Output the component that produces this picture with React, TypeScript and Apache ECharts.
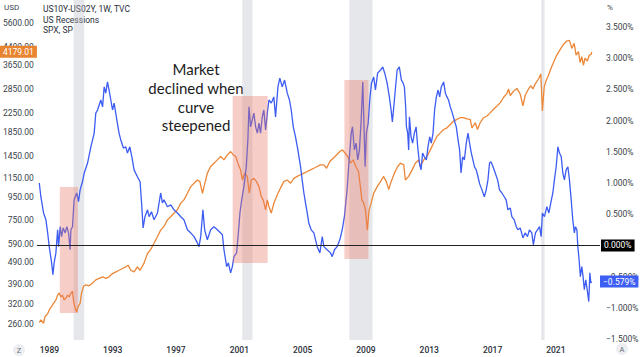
import React, { useEffect, useRef } from 'react';
import * as echarts from 'echarts';

// US10Y-US02Y spread (%), weekly
const spreadYears = [
  1988.36, 1988.46, 1988.63, 1988.78, 1988.89, 1988.99, 1989.14, 1989.22, 1989.3, 1989.41,
  1989.52, 1989.58, 1989.68, 1989.77, 1989.87, 1990.0, 1990.1, 1990.21, 1990.31, 1990.36,
  1990.46, 1990.56, 1990.63, 1990.73, 1990.84, 1990.94, 1991.09, 1991.2, 1991.41, 1991.62,
  1991.83, 1991.93, 1992.04, 1992.25, 1992.36, 1992.46, 1992.56, 1992.67, 1992.77, 1992.88,
  1992.99, 1993.09, 1993.26, 1993.4, 1993.51, 1993.68, 1993.83, 1993.93, 1994.08, 1994.21,
  1994.35, 1994.56, 1994.73, 1994.84, 1994.92, 1995.04, 1995.2, 1995.3, 1995.45, 1995.61,
  1995.83, 1996.03, 1996.14, 1996.24, 1996.46, 1996.67, 1996.87, 1997.09, 1997.3, 1997.5,
  1997.72, 1997.93, 1998.14, 1998.35, 1998.45, 1998.56, 1998.7, 1998.81, 1998.98, 1999.19,
  1999.4, 1999.61, 1999.82, 1999.93, 2000.03, 2000.2, 2000.31, 2000.45, 2000.56, 2000.66,
  2000.83, 2000.94, 2001.04, 2001.15, 2001.29, 2001.44, 2001.54, 2001.61, 2001.71, 2001.82,
  2001.92, 2002.03, 2002.14, 2002.24, 2002.34, 2002.45, 2002.55, 2002.66, 2002.77, 2002.87,
  2003.02, 2003.18, 2003.29, 2003.44, 2003.56, 2003.71, 2003.86, 2004.03, 2004.17, 2004.28,
  2004.41, 2004.55, 2004.7, 2004.87, 2004.97, 2005.08, 2005.18, 2005.29, 2005.39, 2005.54,
  2005.71, 2005.92, 2006.09, 2006.24, 2006.34, 2006.55, 2006.76, 2006.87, 2007.01, 2007.18,
  2007.35, 2007.5, 2007.64, 2007.81, 2007.94, 2008.07, 2008.15, 2008.27, 2008.38, 2008.48,
  2008.59, 2008.7, 2008.8, 2008.89, 2008.95, 2009.03, 2009.14, 2009.24, 2009.35, 2009.49,
  2009.6, 2009.74, 2009.92, 2010.06, 2010.19, 2010.34, 2010.48, 2010.59, 2010.67, 2010.8,
  2010.97, 2011.11, 2011.24, 2011.35, 2011.43, 2011.51, 2011.56, 2011.64, 2011.7, 2011.75,
  2011.85, 2011.95, 2012.06, 2012.17, 2012.27, 2012.38, 2012.48, 2012.58, 2012.69, 2012.82,
  2012.92, 2013.03, 2013.13, 2013.24, 2013.34, 2013.45, 2013.56, 2013.66, 2013.76, 2013.91,
  2014.02, 2014.12, 2014.22, 2014.33, 2014.46, 2014.58, 2014.71, 2014.82, 2014.92, 2015.01,
  2015.11, 2015.22, 2015.34, 2015.45, 2015.55, 2015.66, 2015.76, 2015.86, 2015.97, 2016.08,
  2016.18, 2016.33, 2016.48, 2016.6, 2016.71, 2016.81, 2016.9, 2017.03, 2017.17, 2017.32,
  2017.44, 2017.59, 2017.74, 2017.86, 2017.97, 2018.12, 2018.22, 2018.37, 2018.5, 2018.6,
  2018.75, 2018.92, 2019.06, 2019.21, 2019.33, 2019.48, 2019.58, 2019.71, 2019.84, 2019.97,
  2020.07, 2020.15, 2020.28, 2020.43, 2020.56, 2020.68, 2020.81, 2020.91, 2021.02, 2021.13,
  2021.23, 2021.34, 2021.44, 2021.54, 2021.65, 2021.76, 2021.86, 2021.97, 2022.07, 2022.17,
  2022.24, 2022.33, 2022.39, 2022.47, 2022.55, 2022.64, 2022.72, 2022.8, 2022.89, 2022.98,
  2023.08, 2023.15, 2023.21, 2023.27,
];
const spreadValues = [
  1.0, 0.78, 0.52, 0.41, 0.2, -0.02, -0.28, -0.47, -0.28, -0.12,
  0.25, -0.02, 0.3, 0.14, 0.28, 0.2, 0.3, 0.2, -0.07, 0.25,
  0.3, 0.73, 0.78, 0.84, 0.7, 0.89, 1.02, 1.16, 1.32, 1.58,
  1.8, 2.12, 2.17, 2.33, 2.22, 2.54, 2.44, 2.62, 2.49, 2.33,
  2.17, 2.28, 2.01, 1.8, 1.69, 1.56, 1.58, 1.48, 1.58, 1.42,
  1.21, 1.1, 1.02, 0.62, 0.28, 0.46, 0.57, 0.46, 0.54, 0.41,
  0.52, 0.84, 0.68, 0.73, 0.62, 0.65, 0.57, 0.52, 0.46, 0.41,
  0.25, 0.2, 0.14, 0.04, -0.02, 0.14, 0.57, 0.25, 0.09, 0.25,
  0.3, 0.25, 0.2, 0.17, -0.07, -0.34, -0.28, -0.44, -0.34, -0.18,
  -0.12, 0.2, 0.52, 0.73, 0.94, 1.26, 1.69, 2.22, 1.9, 2.01,
  2.12, 1.9, 1.8, 1.96, 1.8, 2.06, 2.17, 1.85, 2.12, 2.33,
  2.28, 2.38, 2.06, 2.54, 2.68, 2.54, 2.65, 2.44, 2.33, 2.17,
  1.9, 1.74, 1.53, 1.26, 1.05, 0.84, 0.68, 0.52, 0.36, 0.25,
  0.2, -0.02, -0.12, 0.14, -0.02, -0.07, -0.12, -0.18, -0.07, -0.02,
  0.09, 0.25, 0.46, 0.89, 1.37, 1.8, 1.9, 1.53, 1.64, 1.37,
  1.53, 2.01, 2.62, 1.8, 1.26, 1.8, 1.96, 2.33, 2.6, 2.7,
  2.49, 2.76, 2.81, 2.86, 2.76, 2.6, 2.38, 2.17, 1.98, 2.33,
  2.81, 2.86, 2.65, 2.6, 2.54, 2.22, 1.9, 1.8, 1.53, 2.06,
  1.74, 1.64, 1.8, 1.9, 1.58, 1.32, 1.21, 1.48, 1.42, 1.37,
  1.58, 1.74, 1.64, 1.8, 2.17, 2.38, 2.49, 2.38, 2.54, 2.62,
  2.44, 2.38, 2.33, 2.22, 2.12, 2.01, 1.9, 1.69, 1.53, 1.16,
  1.42, 1.37, 1.64, 1.8, 1.64, 1.48, 1.37, 1.26, 1.21, 1.1,
  0.99, 0.89, 0.78, 0.89, 1.05, 1.32, 1.34, 1.26, 1.16, 1.05,
  0.89, 0.84, 0.78, 0.73, 0.57, 0.6, 0.46, 0.41, 0.3, 0.25,
  0.28, 0.12, 0.2, 0.14, 0.25, 0.2, 0.01, 0.2, 0.25, 0.3,
  0.14, 0.52, 0.46, 0.62, 0.52, 0.68, 0.84, 1.05, 1.26, 1.58,
  1.48, 1.42, 1.16, 1.05, 1.21, 1.26, 1.05, 0.73, 0.41, 0.2,
  0.3, 0.25, -0.02, -0.23, -0.5, -0.34, -0.5, -0.71, -0.55, -0.71,
  -0.9, -0.44, -0.6, -0.579,
];

// S&P 500 (USD)
const spxYears = [
  1988.36, 1988.46, 1988.63, 1988.72, 1988.89, 1988.99, 1989.14, 1989.26, 1989.41, 1989.52,
  1989.62, 1989.73, 1989.83, 1989.93, 1990.04, 1990.15, 1990.25, 1990.36, 1990.46, 1990.53,
  1990.63, 1990.72, 1990.82, 1990.94, 1991.03, 1991.16, 1991.3, 1991.51, 1991.73, 1991.93,
  1992.14, 1992.36, 1992.56, 1992.77, 1992.99, 1993.2, 1993.4, 1993.62, 1993.83, 1993.97,
  1994.14, 1994.35, 1994.56, 1994.73, 1994.98, 1995.2, 1995.4, 1995.61, 1995.83, 1996.03,
  1996.24, 1996.46, 1996.67, 1996.87, 1997.09, 1997.3, 1997.5, 1997.72, 1997.93, 1998.14,
  1998.35, 1998.51, 1998.67, 1998.77, 1998.98, 1999.19, 1999.4, 1999.61, 1999.82, 2000.03,
  2000.24, 2000.45, 2000.62, 2000.77, 2000.91, 2001.08, 2001.19, 2001.33, 2001.5, 2001.63,
  2001.76, 2001.92, 2002.09, 2002.24, 2002.39, 2002.51, 2002.66, 2002.77, 2002.87, 2003.02,
  2003.18, 2003.4, 2003.61, 2003.81, 2004.03, 2004.24, 2004.45, 2004.66, 2004.87, 2005.08,
  2005.29, 2005.5, 2005.71, 2005.92, 2006.13, 2006.34, 2006.51, 2006.72, 2006.93, 2007.14,
  2007.35, 2007.52, 2007.69, 2007.85, 2008.02, 2008.19, 2008.36, 2008.53, 2008.65, 2008.74,
  2008.86, 2008.97, 2009.09, 2009.2, 2009.33, 2009.49, 2009.71, 2009.92, 2010.12, 2010.29,
  2010.44, 2010.59, 2010.8, 2011.01, 2011.18, 2011.39, 2011.49, 2011.7, 2011.92, 2012.12,
  2012.33, 2012.44, 2012.65, 2012.86, 2013.07, 2013.28, 2013.49, 2013.7, 2013.91, 2014.12,
  2014.33, 2014.54, 2014.75, 2014.96, 2015.17, 2015.38, 2015.59, 2015.7, 2015.91, 2016.05,
  2016.22, 2016.43, 2016.65, 2016.86, 2017.06, 2017.28, 2017.49, 2017.69, 2017.91, 2018.01,
  2018.12, 2018.33, 2018.54, 2018.75, 2018.92, 2019.06, 2019.27, 2019.42, 2019.55, 2019.69,
  2019.9, 2020.05, 2020.15, 2020.26, 2020.39, 2020.53, 2020.68, 2020.85, 2021.06, 2021.27,
  2021.48, 2021.69, 2021.86, 2022.01, 2022.16, 2022.28, 2022.43, 2022.53, 2022.64, 2022.74,
  2022.85, 2022.99, 2023.12, 2023.23, 2023.27,
];
const spxValues = [
  264, 271, 262, 280, 289, 300, 311, 321, 332, 349,
  357, 343, 349, 332, 339, 349, 343, 357, 363, 327,
  305, 294, 311, 321, 357, 382, 388, 384, 395, 408,
  414, 421, 414, 421, 435, 443, 450, 458, 466, 474,
  450, 443, 466, 450, 484, 534, 556, 593, 635, 678,
  704, 753, 779, 806, 834, 893, 923, 988, 1057, 1094,
  1131, 1112, 988, 1057, 1213, 1298, 1343, 1389, 1437, 1389,
  1461, 1512, 1461, 1437, 1343, 1254, 1131, 1213, 1173, 988,
  1131, 1150, 1112, 1057, 955, 923, 834, 923, 863, 806,
  893, 973, 1044, 1112, 1131, 1094, 1150, 1173, 1193, 1213,
  1233, 1254, 1275, 1298, 1320, 1320, 1275, 1366, 1413, 1461,
  1512, 1538, 1486, 1437, 1343, 1389, 1298, 1233, 1057, 923,
  893, 834, 678, 834, 893, 988, 1057, 1112, 1173, 1112,
  1027, 1112, 1213, 1298, 1343, 1320, 1131, 1173, 1254, 1343,
  1389, 1298, 1389, 1437, 1538, 1649, 1769, 1830, 1894, 1927,
  1994, 2064, 2099, 2136, 2136, 2110, 2099, 1927, 2029, 1894,
  2029, 2136, 2173, 2250, 2330, 2409, 2492, 2625, 2737, 2865,
  2680, 2800, 2880, 2718, 2409, 2680, 2865, 2960, 2865, 3010,
  3171, 3341, 2290, 2910, 3122, 3284, 3511, 3754, 4050, 4282,
  4513, 4672, 4703, 4336, 4567, 4050, 4194, 3754, 3986, 3650,
  3929, 3809, 4050, 4080, 4179.01,
];

const yearTicks = [1989, 1993, 1997, 2001, 2005, 2009, 2013, 2017, 2021];
const spxTicks = [260, 320, 390, 490, 590, 750, 950, 1150, 1450, 1850, 2250, 2850, 3650, 4400, 5600];
// 0.000% is shown by the black price box on the zero line
const spreadTicks = [-1.5, -1, -0.5, 0.5, 1, 1.5, 2, 2.5, 3, 3.5];

// US recessions (start year, end year)
const recessions = [
  [1990.53, 1991.2],
  [2001.19, 2001.83],
  [2007.95, 2009.42],
  [2020.08, 2020.29],
];
// highlighted periods: [startYear, spreadTop, endYear, spreadBottom]
const highlights = [
  [1989.66, 0.936, 1990.8, -1.083],
  [2000.58, 2.394, 2002.79, -0.282],
  [2007.64, 2.651, 2009.16, -0.218],
];

const annotationLines = ['Market', 'declined when', 'curve', 'steepened'];
const legendLines = ['US10Y-US02Y, 1W, TVC', 'US Recessions', 'SPX, SP'];

const BLUE = '#3d5cf2';
const ORANGE = '#ec8737';
const FONT = 'Roboto, "Noto Sans", sans-serif';
const CLEAR = 'rgba(0,0,0,0)';

const fmtPct = (v: number) => (v < 0 ? '\u2212' : '') + Math.abs(v).toFixed(3) + '%';

export default function App() {
  const ref = useRef<HTMLDivElement>(null);

  useEffect(() => {
    if (!ref.current) return;
    const chart = echarts.init(ref.current, undefined, { renderer: 'svg' });
    const spxLast = spxValues[spxValues.length - 1];
    const spreadLast = spreadValues[spreadValues.length - 1];

    const option: any = {
      animation: false,
      textStyle: { fontFamily: FONT },
      grid: { left: 36, right: 42, top: 0, bottom: 17, containLabel: false },
      xAxis: {
        type: 'value',
        min: 1988.21,
        max: 2023.79,
        axisLine: { show: false },
        axisTick: { show: false },
        splitLine: { show: false },
        axisLabel: {
          customValues: yearTicks,
          formatter: (v: number) => String(Math.round(v)),
          color: '#2a2e39',
          fontSize: 8.5,
          fontWeight: 500,
          margin: 5,
        },
      },
      yAxis: [
        {
          type: 'value',
          position: 'left',
          min: 5.39733,
          max: 8.86849,
          axisLine: { show: false },
          axisTick: { show: false },
          splitLine: { show: false },
          axisLabel: {
            customValues: spxTicks.map((t) => Math.log(t)),
            formatter: (v: number) => Math.exp(v).toFixed(2),
            color: '#3b3f4a',
            fontSize: 8.5,
            margin: 3,
          },
        },
        {
          type: 'value',
          position: 'right',
          min: -1.516,
          max: 3.9327,
          axisLine: { show: false },
          axisTick: { show: false },
          splitLine: { show: false },
          axisLabel: {
            customValues: spreadTicks,
            formatter: fmtPct,
            color: '#3b3f4a',
            fontSize: 8.5,
            margin: 6,
          },
        },
      ],
      series: [
        {
          name: 'SPX',
          type: 'line',
          yAxisIndex: 0,
          showSymbol: false,
          symbol: 'none',
          z: 2,
          lineStyle: { color: ORANGE, width: 1.3 },
          data: spxYears.map((y, i) => [y, Math.log(spxValues[i])]),
          markLine: {
            silent: true,
            symbol: 'none',
            z: 8,
            lineStyle: { color: CLEAR, width: 0 },
            label: {
              show: true,
              position: 'start',
              distance: 0,
              formatter: () => spxLast.toFixed(2),
              backgroundColor: '#e8832e',
              color: '#fff',
              fontSize: 8.5,
              padding: [2, 3, 1, 3],
              fontFamily: FONT,
            },
            data: [{ yAxis: Math.log(spxLast) }],
          },
        },
        {
          name: 'US10Y-US02Y',
          type: 'line',
          yAxisIndex: 1,
          showSymbol: false,
          symbol: 'none',
          z: 3,
          lineStyle: { color: BLUE, width: 1.3 },
          data: spreadYears.map((y, i) => [y, spreadValues[i]]),
          markArea: {
            silent: true,
            z: 1,
            itemStyle: { color: 'rgba(185,188,196,0.36)' },
            data: recessions.map(([a, b]) => [{ xAxis: a }, { xAxis: b }]),
          },
          markLine: {
            silent: true,
            symbol: 'none',
            z: 8,
            data: [
              {
                yAxis: 0,
                lineStyle: { color: '#222', width: 1, type: 'solid' },
                label: {
                  show: true,
                  position: 'end',
                  distance: 1,
                  formatter: () => fmtPct(0),
                  backgroundColor: '#000',
                  color: '#fff',
                  fontSize: 8.5,
                  padding: [2, 3, 1, 3],
                  fontFamily: FONT,
                },
              },
              {
                yAxis: spreadLast,
                lineStyle: { color: CLEAR, width: 0, type: 'solid' },
                label: {
                  show: true,
                  position: 'end',
                  distance: 0,
                  formatter: () => fmtPct(spreadLast),
                  backgroundColor: '#3d5ef2',
                  color: '#fff',
                  fontSize: 8.5,
                  padding: [2, 3, 1, 3],
                  fontFamily: FONT,
                },
              },
            ],
          },
        },
        {
          name: 'highlights',
          type: 'line',
          yAxisIndex: 1,
          data: [],
          markArea: {
            silent: true,
            z: 6,
            itemStyle: { color: 'rgba(232,120,100,0.36)' },
            data: highlights.map(([x1, y1, x2, y2]) => [
              { coord: [x1, y1] },
              { coord: [x2, y2] },
            ]),
          },
        },
      ],
      graphic: [
        {
          type: 'text',
          left: 4,
          top: 3,
          style: { text: 'USD', fill: '#3b3f4a', font: '8px ' + FONT },
        },
        {
          type: 'text',
          left: 607,
          top: 3,
          style: { text: '%', fill: '#3b3f4a', font: '8px ' + FONT },
        },
        {
          type: 'text',
          left: 43,
          top: 4,
          style: {
            text: legendLines.join('\n'),
            fill: '#2a2e39',
            font: '8.5px ' + FONT,
            lineHeight: 10.5,
          },
        },
        {
          type: 'text',
          x: 196,
          y: 60,
          style: {
            text: annotationLines.join('\n'),
            fill: '#1c1c1c',
            font: '15px Lato, "Open Sans", sans-serif',
            align: 'center',
            verticalAlign: 'top',
            lineHeight: 18.6,
          },
        },
        {
          type: 'circle',
          shape: { cx: 19, cy: 350, r: 6 },
          style: { fill: '#eceef2' },
        },
        {
          type: 'text',
          x: 19,
          y: 350,
          style: { text: 'Z', fill: '#6a6d78', font: '7.5px ' + FONT, align: 'center', verticalAlign: 'middle' },
        },
        {
          type: 'circle',
          shape: { cx: 622, cy: 349, r: 6 },
          style: { fill: '#eceef2' },
        },
        {
          type: 'text',
          x: 622,
          y: 349,
          style: { text: 'A', fill: '#6a6d78', font: '7.5px ' + FONT, align: 'center', verticalAlign: 'middle' },
        },
      ],
    };

    chart.setOption(option);
    return () => chart.dispose();
  }, []);

  return (
    <div
      ref={ref}
      style={{ position: 'fixed', left: 0, top: 0, width: 642, height: 357, background: '#fff' }}
    />
  );
}
